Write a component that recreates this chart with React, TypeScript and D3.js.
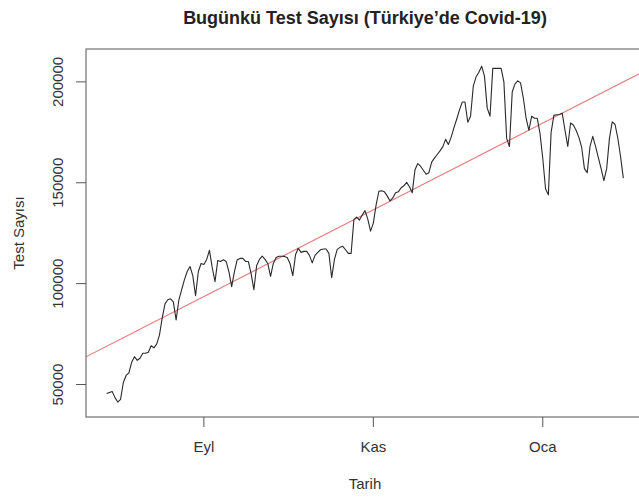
import React from 'react';
import * as d3 from 'd3';

const START_DATE = '2020-07-28';
const TEST_COUNTS = [
  45500, 46000, 46500, 43500, 41300, 42600, 51000, 54500, 55800, 61000,
  63800, 62000, 63000, 65500, 65500, 66000, 69200, 68200, 70000, 74500,
  83000, 90000, 92000, 92500, 91000, 82000, 92000, 97000, 102000, 106000,
  108500, 104000, 94000, 106000, 110000, 109500, 112000, 116500, 108000, 101000,
  111500, 111000, 111800, 111000, 106000, 98500, 106000, 111900, 112500, 112500,
  111000, 111000, 105000, 97000, 109000, 112000, 113600, 112000, 110000, 103600,
  110000, 113000, 113600, 113600, 113500, 113000, 110000, 104000, 114400, 117500,
  115500, 116000, 116000, 114000, 110300, 114000, 115500, 116800, 117200, 117200,
  115000, 103000, 112000, 117000, 118000, 118500, 116800, 115000, 115000, 131700,
  133000, 131500, 134000, 136200, 132000, 126000, 130000, 139000, 145800, 146000,
  145500, 143500, 141000, 142500, 145000, 145500, 147500, 148500, 150200, 148000,
  145000, 156500, 159500, 158200, 156200, 154200, 155000, 160200, 162200, 164000,
  165800, 167800, 171500, 169000, 172500, 177200, 181500, 186000, 190000, 190000,
  180000, 183000, 198000, 202500, 204800, 207800, 203000, 187000, 183000, 206700,
  206700, 206700, 206700, 200000, 172000, 168000, 195000, 199000, 200500, 199500,
  192000, 182000, 176000, 183000, 182000, 182000, 174500, 162000, 147000, 144000,
  175000, 183400, 183700, 183800, 184500, 176000, 168000, 179600, 178600, 176000,
  172500, 167500, 157000, 155000, 168000, 173000, 168000, 162500, 157000, 151000,
  157000, 172000, 180200, 179000, 172200, 163000, 152300,
];
const Y_TICKS = [50000, 100000, 150000, 200000];
const X_TICK_DATES = ['2020-09-01', '2020-11-01', '2021-01-01'];
const X_TICK_LABELS = ['Eyl', 'Kas', 'Oca'];

const TITLE = 'Bugünkü Test Sayısı (Türkiye’de Covid-19)';
const X_LABEL = 'Tarih';
const Y_LABEL = 'Test Sayısı';

const W = 639;
const H = 497;
const BOX = { left: 86, right: 644, top: 49, bottom: 417 };
const FONT = '"Liberation Sans", Arial, Helvetica, sans-serif';

export default function App() {
  const parse = d3.utcParse('%Y-%m-%d');
  const start = parse(START_DATE) as Date;
  const dates = TEST_COUNTS.map((_, i) => d3.utcDay.offset(start, i));
  const data = TEST_COUNTS.map((v, i) => ({ date: dates[i], value: v, idx: i }));

  const first = dates[0];
  const last = dates[dates.length - 1];
  const span = (last.getTime() - first.getTime()) * 0.04;
  const x = d3
    .scaleUtc()
    .domain([new Date(first.getTime() - span), new Date(last.getTime() + span)])
    .range([BOX.left, BOX.right]);
  const y = d3.scaleLinear().domain([33900, 216300]).range([BOX.bottom, BOX.top]);

  const line = d3
    .line<{ date: Date; value: number }>()
    .x((d) => x(d.date))
    .y((d) => y(d.value));

  // least-squares fit, as in abline(lm(value ~ date))
  const xs = data.map((d) => d.date.getTime());
  const ys = data.map((d) => d.value);
  const mx = d3.mean(xs) as number;
  const my = d3.mean(ys) as number;
  let sxy = 0;
  let sxx = 0;
  for (let i = 0; i < xs.length; i++) {
    sxy += (xs[i] - mx) * (ys[i] - my);
    sxx += (xs[i] - mx) * (xs[i] - mx);
  }
  const slope = sxy / sxx;
  const intercept = my - slope * mx;
  const [d0, d1] = x.domain().map((d) => d.getTime());
  const fit = (t: number) => intercept + slope * t;

  const tickDates = X_TICK_DATES.map((s) => parse(s) as Date);

  return (
    <svg
      width={W}
      height={H}
      style={{ position: 'absolute', left: 0, top: 0, background: '#fff' }}
      fontFamily={FONT}
    >
      <defs>
        <clipPath id="plotclip">
          <rect x={BOX.left} y={BOX.top} width={BOX.right - BOX.left} height={BOX.bottom - BOX.top} />
        </clipPath>
      </defs>
      <rect x={0} y={0} width={W} height={H} fill="#fff" />

      <text x={(BOX.left + BOX.right) / 2} y={24} textAnchor="middle" fontSize={18} fontWeight="bold" fill="#222">
        {TITLE}
      </text>

      <g clipPath="url(#plotclip)">
        <line
          x1={x.range()[0]}
          x2={x.range()[1]}
          y1={y(fit(d0))}
          y2={y(fit(d1))}
          stroke="#e87878"
          strokeWidth={1.1}
        />
        <path d={line(data) || ''} fill="none" stroke="#2a2a2a" strokeWidth={1.1} strokeLinejoin="round" />
      </g>

      <rect
        x={BOX.left}
        y={BOX.top}
        width={BOX.right - BOX.left}
        height={BOX.bottom - BOX.top}
        fill="none"
        stroke="#555"
        strokeWidth={1}
      />

      {tickDates.map((d, i) => (
        <g key={X_TICK_LABELS[i]}>
          <line x1={x(d)} x2={x(d)} y1={BOX.bottom} y2={BOX.bottom + 10} stroke="#555" />
          <text x={x(d)} y={BOX.bottom + 35} textAnchor="middle" fontSize={15} fill="#333">
            {X_TICK_LABELS[i]}
          </text>
        </g>
      ))}

      {Y_TICKS.map((t) => (
        <g key={t}>
          <line x1={BOX.left - 10} x2={BOX.left} y1={y(t)} y2={y(t)} stroke="#555" />
          <text
            transform={`translate(${BOX.left - 23},${y(t)}) rotate(-90)`}
            textAnchor="middle"
            fontSize={15}
            fill="#333"
          >
            {String(t)}
          </text>
        </g>
      ))}

      <text x={(BOX.left + BOX.right) / 2} y={BOX.bottom + 72} textAnchor="middle" fontSize={15} fill="#333">
        {X_LABEL}
      </text>
      <text
        transform={`translate(${BOX.left - 62},${(BOX.top + BOX.bottom) / 2}) rotate(-90)`}
        textAnchor="middle"
        fontSize={15}
        fill="#333"
      >
        {Y_LABEL}
      </text>
    </svg>
  );
}
